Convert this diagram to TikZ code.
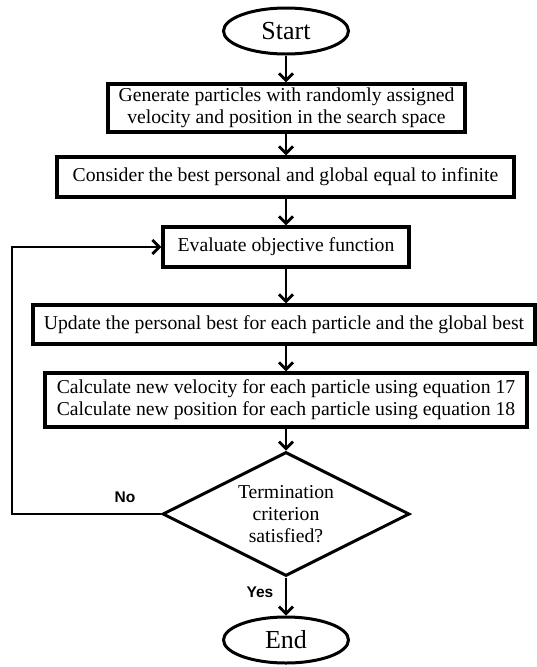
\documentclass[tikz,border=0pt]{standalone}
\usepackage{fontspec}
\setmainfont{Liberation Serif}
\newfontfamily\lsans{Liberation Sans}
\usetikzlibrary{shapes.geometric,arrows.meta}
\tikzset{
  boxnode/.style={draw, line width=3.2pt, rectangle, inner sep=0pt, align=center,
    font=\fontsize{19.7}{22}\selectfont},
  termnode/.style={draw, line width=3pt, ellipse, inner sep=0pt,
    minimum width=125pt, minimum height=46pt, font=\fontsize{26}{28}\selectfont},
  decnode/.style={draw, line width=3pt, diamond, shape aspect=2, inner sep=0pt,
    minimum width=247pt, minimum height=124pt, align=center,
    font=\fontsize{19.7}{22}\selectfont},
  arr/.style={line width=2.8pt, -{Straight Barb[length=7pt,width=14pt,line width=2.8pt]}},
  lbl/.style={font=\lsans\bfseries\fontsize{15.5}{17}\selectfont, inner sep=0pt}
}
\begin{document}
\begin{tikzpicture}[x=1pt,y=-1pt]
\useasboundingbox (0,0) rectangle (536,667);
\node[termnode] (start) at (286,31) {Start};
\node[boxnode, minimum width=357pt, minimum height=48pt] (b1) at (286.5,108)
  {Generate particles with randomly assigned\\velocity and position in the search space};
\node[boxnode, minimum width=457pt, minimum height=40pt] (b2) at (285.5,177)
  {Consider the best personal and global equal to infinite};
\node[boxnode, minimum width=246pt, minimum height=40pt] (b3) at (286,247)
  {Evaluate objective function};
\node[boxnode, minimum width=502pt, minimum height=39pt] (b4) at (284,324.5)
  {Update the personal best for each particle and the global best};
\node[boxnode, minimum width=482pt, minimum height=54pt] (b5) at (286,400)
  {Calculate new velocity for each particle using equation 17\\Calculate new position for each particle using equation 18};
\node[decnode] (dec) at (286,514) {Termination\\criterion\\satisfied?};
\node[termnode] (end) at (286,640) {End};
\coordinate (lp) at (12,514);
\node[lbl] (no) at (125,497) {No};
\node[lbl] (yes) at (260,592) {Yes};
\draw[arr] (start.south) -- (start.south |- b1.north);
\draw[arr] (b1.south -| start.south) -- (start.south |- b2.north);
\draw[arr] (b2.south -| b3.north) -- (b3.north);
\draw[arr] (b3.south) -- (b3.south |- b4.north);
\draw[arr] (b4.south -| b3.south) -- (b3.south |- b5.north);
\draw[arr] (b5.south -| dec.north) -- (dec.north);
\draw[arr] (dec.south) -- (end.north);
\draw[arr] (dec.west) -- (lp) |- (b3.west);
\end{tikzpicture}
\end{document}
